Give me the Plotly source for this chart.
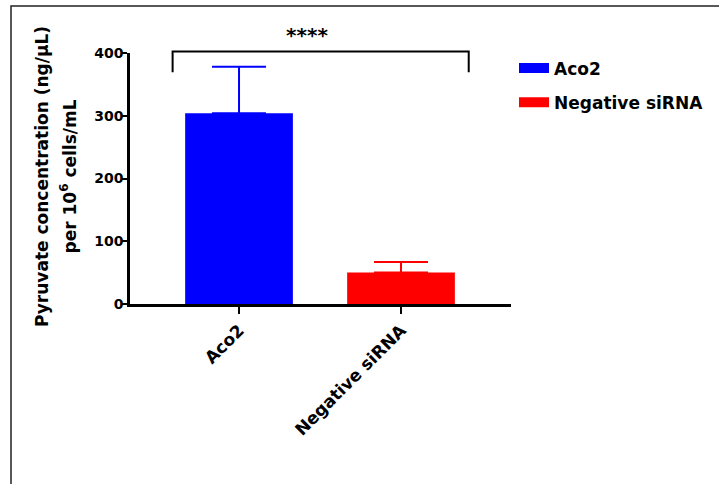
import plotly.graph_objects as go

# ---- data ----
categories = ["Aco2", "Negative siRNA"]
means = [304, 50]
err_plus = [74, 17]
err_minus = [0, 0]
colors = ["#0000FF", "#FF0000"]
y_ticks = [0, 100, 200, 300, 400]
significance = "****"

FONT = "DejaVu Sans"
W, H = 719, 484
ML, MR, MT, MB = 130, 208, 53, 180
PW, PH = W - ML - MR, H - MT - MB

x_range = [-0.673, 1.679]
y_range = [0, 400]

fig = go.Figure()
for i, cat in enumerate(categories):
    fig.add_trace(go.Bar(
        x=[cat], y=[means[i]],
        marker=dict(color=colors[i], line=dict(width=0)),
        width=0.665,
        error_y=dict(type="data", symmetric=False, array=[err_plus[i]],
                     arrayminus=[err_minus[i]], color=colors[i],
                     thickness=2, width=27),
        showlegend=False,
    ))
# legend entries (line swatches give wide rectangular keys)
for i, cat in enumerate(categories):
    fig.add_trace(go.Scatter(
        x=[None], y=[None], mode="lines", name=cat,
        line=dict(color=colors[i], width=13),
        legendgroup=cat, showlegend=True,
    ))

def xp(v):
    return (v - x_range[0]) / (x_range[1] - x_range[0])

def yp(v):
    return (v - y_range[0]) / (y_range[1] - y_range[0])

# significance bracket (category units / data units -> paper)
br_x = [-0.41, 1.418]
br_y = [369.5, 402.5]
fig.add_shape(type="path", xref="paper", yref="paper",
              path=f"M{xp(br_x[0])},{yp(br_y[0])} L{xp(br_x[0])},{yp(br_y[1])} "
                   f"L{xp(br_x[1])},{yp(br_y[1])} L{xp(br_x[1])},{yp(br_y[0])}",
              line=dict(color="black", width=2))
fig.add_annotation(text=significance, xref="paper", yref="paper",
                   x=xp(0.42), y=yp(428), showarrow=False,
                   font=dict(family=FONT, size=20, color="black", weight="bold"),
                   xanchor="center", yanchor="middle")

# outer frame
fig.add_shape(type="rect", xref="paper", yref="paper",
              x0=(11 - ML) / PW, x1=(740 - ML) / PW,
              y0=-(500 - (H - MB)) / PH, y1=(H - MB - 6) / PH,
              line=dict(color="#222222", width=1.5))

# y-axis title (two lines)
fig.add_annotation(text="Pyruvate concentration (ng/μL)", xref="paper", yref="paper",
                   x=(42 - ML) / PW, y=0.506, textangle=-90,
                   showarrow=False, xanchor="center", yanchor="middle",
                   font=dict(family=FONT, size=17, color="black", weight="bold"))
fig.add_annotation(text="per 10<sup>6</sup> cells/mL", xref="paper", yref="paper",
                   x=(68.5 - ML) / PW, y=0.506, textangle=-90,
                   showarrow=False, xanchor="center", yanchor="middle",
                   font=dict(family=FONT, size=17, color="black", weight="bold"))

fig.update_layout(
    width=W, height=H, autosize=False,
    margin=dict(l=ML, r=MR, t=MT, b=MB, pad=0, autoexpand=False),
    paper_bgcolor="white", plot_bgcolor="white",
    font=dict(family=FONT, color="black"),
    legend=dict(x=(514 - ML) / PW, xanchor="left", y=1.01, yanchor="top",
                font=dict(family=FONT, size=17, color="black", weight="bold"),
                tracegroupgap=9, itemwidth=30, bgcolor="rgba(0,0,0,0)",
                borderwidth=0),
    xaxis=dict(type="category", range=x_range, showgrid=False, zeroline=False,
               showline=True, linecolor="black", linewidth=2.5,
               ticks="outside", ticklen=7, tickwidth=2, tickcolor="black",
               tickangle=-45,
               tickfont=dict(family=FONT, size=17, color="black", weight="bold")),
    yaxis=dict(range=y_range, tickvals=y_ticks, showgrid=False, zeroline=False,
               showline=True, linecolor="black", linewidth=2.5,
               ticks="outside", ticklen=6, tickwidth=2, tickcolor="black",
               ticklabelstandoff=-5,
               tickfont=dict(family=FONT, size=14, color="black", weight="bold")),
)

fig.write_html("out.html")
